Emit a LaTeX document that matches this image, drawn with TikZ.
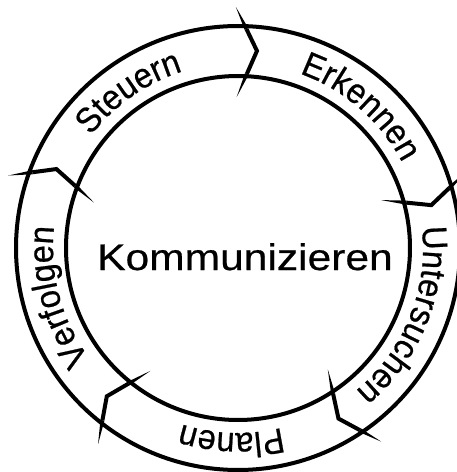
\documentclass[tikz,border=0pt]{standalone}
\usepackage{fontspec}
\setmainfont{Liberation Sans}
\newfontfamily\widesans[FakeStretch=1.15,FakeBold=0.6]{Liberation Sans}
\newfontfamily\ringsans[FakeStretch=0.93,FakeBold=0.6]{Liberation Sans}
\newcommand\ringlabelfont{\fontsize{35}{35}\selectfont\ringsans}
\usetikzlibrary{decorations.text,calc}
\begin{document}
\begin{tikzpicture}[x=1pt,y=1pt,
  ring/.style={line width=4pt},
  leg/.style={line width=4pt, line join=miter},
  ringtext/.style={decorate, decoration={text along path, text align=center, text={|\ringlabelfont|#1}}}]
\useasboundingbox (-238,-224) rectangle (219,248);
\draw[ring] (0,0) circle[radius=222];
\draw[ring] (0,0) circle[radius=172];
\foreach \t [evaluate=\t as \b using \t+6] in {84.5,12.5,-59.5,-131.5,-203.5} {
  \coordinate (T) at (\t:198);
  \coordinate (O) at (\b:241);
  \coordinate (I) at (\b:151);
  \coordinate (CO) at ($(T)!0.5!(O)$);
  \coordinate (CI) at ($(T)!0.5!(I)$);
  \draw[leg] (CO) -- (T) -- (CI);
  \fill ($(CO)!2pt!90:(O)$) -- (O) -- ($(CO)!2pt!-90:(O)$) -- cycle;
  \fill ($(CI)!2pt!90:(I)$) -- (I) -- ($(CI)!2pt!-90:(I)$) -- cycle;
}
\path[ringtext=Steuern] (165:185) arc[start angle=165, end angle=85, radius=185];
\path[ringtext=Erkennen] (89:185) arc[start angle=89, end angle=9, radius=185];
\path[ringtext=Untersuchen] (18:185) arc[start angle=18, end angle=-62, radius=185];
\path[ringtext=Planen] (-52:185) arc[start angle=-52, end angle=-132, radius=185];
\path[ringtext=Verfolgen] (235:185) arc[start angle=235, end angle=155, radius=185];
\node[font=\fontsize{37}{37}\selectfont\widesans, anchor=base, inner sep=0pt] (k) at (7,-22) {Kommunizieren};
\end{tikzpicture}
\end{document}
